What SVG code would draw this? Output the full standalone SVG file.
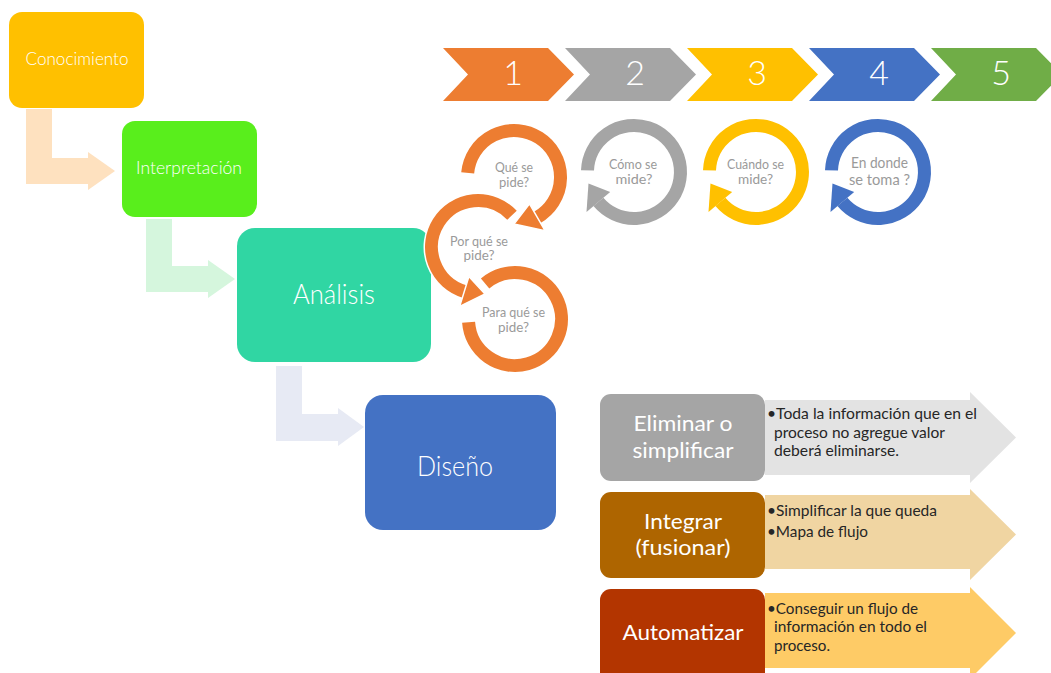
<svg xmlns="http://www.w3.org/2000/svg" width="1051" height="673" viewBox="0 0 1051 673">
<style>
.f{font-family:Lato,"Liberation Sans",sans-serif}
.wt{fill:#FFFFFF;text-anchor:middle;font-weight:300}
.num{fill:#FFFFFF;text-anchor:middle;font-size:34px;font-weight:300}
.ct{fill:#9A9A9A;text-anchor:middle;font-size:13.5px}
.bx{fill:#FFFFFF;text-anchor:middle;font-size:22px}
.at{fill:#262626;font-size:16px}
.halo{fill:none;stroke:#FFFFFF;stroke-width:16}
.arc{fill:none;stroke-width:13}
.head{stroke:#FFFFFF;stroke-width:1.5}
</style>
<rect width="1051" height="673" fill="#FFFFFF"/>

<g id="connectors">
<polygon points="26,109 52,109 52,158 88,158 88,152 115,171 88,190 88,184 26,184" fill="#FEE1BF"/>
<polygon points="146,219 172,219 172,266 208,266 208,260 235,279 208,298 208,292 146,292" fill="#D5F6DD"/>
<polygon points="276,366 302,366 302,414 338,414 338,408 364,427 338,446 338,441 276,441" fill="#E7EAF4"/>
</g>

<g id="conocimiento">
<rect x="9" y="12" width="135" height="96" rx="13" fill="#FFC000"/>
<text class="f wt" x="77" y="65" font-size="17" textLength="103" lengthAdjust="spacingAndGlyphs">Conocimiento</text>
</g>
<g id="interpretacion">
<rect x="122" y="121" width="135" height="96" rx="13" fill="#59EE1C"/>
<text class="f wt" x="189" y="174" font-size="17" textLength="106" lengthAdjust="spacingAndGlyphs">Interpretación</text>
</g>
<g id="analisis">
<rect x="237" y="228" width="194" height="134" rx="18" fill="#30D6A3"/>
<text class="f wt" x="334" y="304" font-size="27" textLength="82" lengthAdjust="spacingAndGlyphs">Análisis</text>
</g>
<g id="diseno">
<rect x="365" y="395" width="191" height="135" rx="18" fill="#4472C4"/>
<text class="f wt" x="455" y="476" font-size="27" textLength="76" lengthAdjust="spacingAndGlyphs">Diseño</text>
</g>

<g id="chevron-1">
<polygon points="443,48 548,48 574,74.5 548,101 443,101 468,74.5" fill="#ED7D31"/>
<text class="f num" x="513" y="85">1</text>
</g>
<g id="chevron-2">
<polygon points="565,48 670,48 696,74.5 670,101 565,101 590,74.5" fill="#A5A5A5"/>
<text class="f num" x="635" y="85">2</text>
</g>
<g id="chevron-3">
<polygon points="687,48 792,48 818,74.5 792,101 687,101 712,74.5" fill="#FFC000"/>
<text class="f num" x="757" y="85">3</text>
</g>
<g id="chevron-4">
<polygon points="809,48 914,48 940,74.5 914,101 809,101 834,74.5" fill="#4472C4"/>
<text class="f num" x="879" y="85">4</text>
</g>
<g id="chevron-5">
<polygon points="931,48 1036,48 1062,74.5 1036,101 931,101 956,74.5" fill="#70AD47"/>
<text class="f num" x="1001" y="85">5</text>
</g>

<g id="para-que">
<path class="halo" d="M485.1,283.4 A46.5,46.5 0 1 1 468.6,322.2"/>
<path class="arc" stroke="#ED7D31" d="M485.1,283.4 A46.5,46.5 0 1 1 468.6,322.2"/>
<text class="f ct" x="513.5" y="317" textLength="63" lengthAdjust="spacingAndGlyphs">Para qué se</text>
<text class="f ct" x="513.5" y="332" textLength="31" lengthAdjust="spacingAndGlyphs">pide?</text>
</g>
<g id="por-que">
<path class="halo" d="M512.0,215.3 A46.5,46.5 0 1 0 464.4,291.5"/>
<path class="arc" stroke="#ED7D31" d="M512.0,215.3 A46.5,46.5 0 1 0 464.4,291.5"/>
<polygon class="head" fill="#ED7D31" points="468.9,276.6 459.7,306.3 485,294"/>
<text class="f ct" x="479" y="246" textLength="58" lengthAdjust="spacingAndGlyphs">Por qué se</text>
<text class="f ct" x="479" y="260" textLength="31" lengthAdjust="spacingAndGlyphs">pide?</text>
</g>
<g id="que">
<path class="halo" d="M467.7,172.9 A46.5,46.5 0 1 1 537.25,217.3"/>
<path class="arc" stroke="#ED7D31" d="M467.7,172.9 A46.5,46.5 0 1 1 537.25,217.3"/>
<polygon class="head" fill="#ED7D31" points="529.5,203.8 545,230.7 514,224"/>
<text class="f ct" x="514" y="172" textLength="38" lengthAdjust="spacingAndGlyphs">Qué se</text>
<text class="f ct" x="514" y="187" textLength="30" lengthAdjust="spacingAndGlyphs">pide?</text>
</g>

<g id="como">
<path class="arc" stroke="#A5A5A5" d="M587.5,170.4 A46.5,46.5 0 1 1 598.4,201.9"/>
<polygon fill="#A5A5A5" points="610.2,192.0 586.5,211.9 588.5,183.5"/>
<text class="f ct" x="633" y="169" textLength="48" lengthAdjust="spacingAndGlyphs">Cómo se</text>
<text class="f ct" x="634" y="184" textLength="37" lengthAdjust="spacingAndGlyphs">mide?</text>
</g>
<g id="cuando">
<path class="arc" stroke="#FFC000" d="M709.5,170.4 A46.5,46.5 0 1 1 720.4,201.9"/>
<polygon fill="#FFC000" points="732.2,192.0 708.5,211.9 710.5,183.5"/>
<text class="f ct" x="755.5" y="169" textLength="57" lengthAdjust="spacingAndGlyphs">Cuándo se</text>
<text class="f ct" x="755.5" y="184" textLength="35" lengthAdjust="spacingAndGlyphs">mide?</text>
</g>
<g id="en-donde">
<path class="arc" stroke="#4472C4" d="M831.5,170.4 A46.5,46.5 0 1 1 842.4,201.9"/>
<polygon fill="#4472C4" points="854.2,192.0 830.5,211.9 832.5,183.5"/>
<text class="f ct" x="879.5" y="168" style="font-size:15px" textLength="57" lengthAdjust="spacingAndGlyphs">En donde</text>
<text class="f ct" x="879.5" y="185" style="font-size:15px" textLength="61" lengthAdjust="spacingAndGlyphs">se toma ?</text>
</g>

<g id="eliminar">
<polygon points="765,400 970,400 970,392 1016,437.5 970,483 970,475 765,475" fill="#E3E3E3"/>
<rect x="600" y="394" width="165" height="87" rx="11" fill="#A5A5A5"/>
<text class="f bx" x="683" y="431" textLength="99" lengthAdjust="spacingAndGlyphs">Eliminar o</text>
<text class="f bx" x="683" y="458" textLength="101" lengthAdjust="spacingAndGlyphs">simplificar</text>
<text class="f at" x="767" y="419" textLength="210" lengthAdjust="spacingAndGlyphs">•Toda la información que en el</text>
<text class="f at" x="774" y="438" textLength="171" lengthAdjust="spacingAndGlyphs">proceso no agregue valor</text>
<text class="f at" x="774" y="456" textLength="125" lengthAdjust="spacingAndGlyphs">deberá eliminarse.</text>
</g>
<g id="integrar">
<polygon points="765,495 970,495 970,489 1016,534.5 970,580 970,569 765,569" fill="#F0D5A2"/>
<rect x="600" y="492" width="165" height="86" rx="11" fill="#AE6500"/>
<text class="f bx" x="683" y="529" textLength="78" lengthAdjust="spacingAndGlyphs">Integrar</text>
<text class="f bx" x="683" y="555" textLength="95" lengthAdjust="spacingAndGlyphs">(fusionar)</text>
<text class="f at" x="767" y="516" textLength="170" lengthAdjust="spacingAndGlyphs">•Simplificar la que queda</text>
<text class="f at" x="767" y="537" textLength="101" lengthAdjust="spacingAndGlyphs">•Mapa de flujo</text>
</g>
<g id="automatizar">
<polygon points="765,593 970,593 970,587 1016,633 970,679 970,668 765,668" fill="#FECB66"/>
<rect x="600" y="589" width="165" height="95" rx="11" fill="#B33500"/>
<text class="f bx" x="683" y="640" textLength="121" lengthAdjust="spacingAndGlyphs">Automatizar</text>
<text class="f at" x="767" y="614" textLength="151" lengthAdjust="spacingAndGlyphs">•Conseguir un flujo de</text>
<text class="f at" x="774" y="632" textLength="153" lengthAdjust="spacingAndGlyphs">información en todo el</text>
<text class="f at" x="774" y="651" textLength="56" lengthAdjust="spacingAndGlyphs">proceso.</text>
</g>
</svg>
